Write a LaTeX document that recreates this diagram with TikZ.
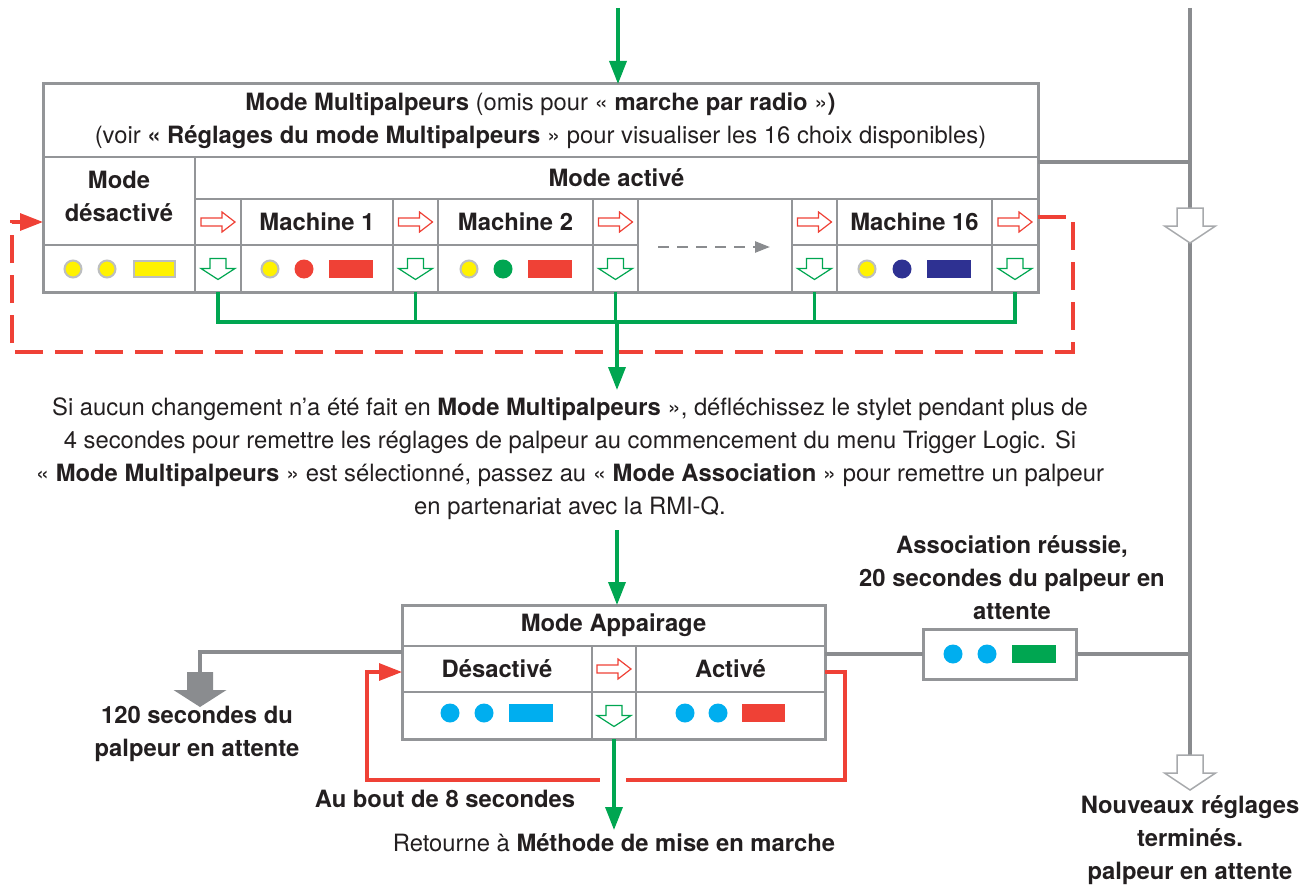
\documentclass[tikz,border=0pt]{standalone}
\usepackage{fontspec}
\setmainfont{TeX Gyre Heros}
\usetikzlibrary{arrows.meta,calc}
\definecolor{ink}{HTML}{231F20}
\definecolor{rule}{HTML}{939598}
\definecolor{wire}{HTML}{8A8C8F}
\definecolor{hollowgray}{HTML}{A7A9AC}
\definecolor{ledrim}{HTML}{BCBEC0}
\definecolor{ledyellow}{HTML}{FFF200}
\definecolor{ledred}{HTML}{EF4136}
\definecolor{ledgreen}{HTML}{00A651}
\definecolor{lednavy}{HTML}{2E3192}
\definecolor{ledcyan}{HTML}{00AEEF}
\newcommand\basefont{\fontsize{23.8}{33}\selectfont}
% table cell: name, x1, y1, x2, y2, text
\newcommand\tcell[6]{\node[cell,minimum width={#4-#2},minimum height={#5-#3}] (#1) at (#2,#3) {#6};}
\newcommand\ledlit[3]{\fill[#3] (#1,#2) circle (9.5);}
\newcommand\leddim[2]{\filldraw[fill=ledyellow,draw=ledrim,line width=2] (#1,#2) circle (8.5);}
\newcommand\ledbar[5]{\fill[#5] (#1,#2) rectangle (#3,#4);}
\begin{document}
\begin{tikzpicture}[x=1pt,y=-1pt,
  cell/.style={draw=rule,line width=1.8,rectangle,inner sep=0,outer sep=0,
    anchor=north west,font=\basefont\bfseries,text=ink,align=center},
  frame/.style={cell,line width=3},
  txt/.style={font=\basefont,text=ink,align=center,inner sep=0},
  btxt/.style={txt,font=\basefont\bfseries},
  gline/.style={draw=ledgreen,line width=3.5},
  garrow/.style={gline,-{Triangle[length=23,width=17]}},
  rline/.style={draw=ledred,line width=3.2},
  rarrow/.style={rline,-{Triangle[length=23,width=17]}},
  rdash/.style={rarrow,dash pattern=on 28 off 12},
  wline/.style={draw=wire,line width=3.5},
  dotarrow/.style={draw=wire,line width=2.5,dash pattern=on 11 off 8,
    -{Triangle[length=15,width=11]}},
  hollowright/.pic={\filldraw[draw=ledred,fill=white,line width=1.2]
    (-17,-4) -- (4,-4) -- (4,-10) -- (17,0) -- (4,10) -- (4,4) -- (-17,4) -- cycle;},
  hollowdown/.pic={\filldraw[draw=ledgreen,fill=white,line width=1.2]
    (-8,-10) -- (8,-10) -- (8,0) -- (17,0) -- (0,11) -- (-17,0) -- (-8,0) -- cycle;},
  bigdown/.pic={\filldraw[draw=hollowgray,fill=white,line width=1.5]
    (-13,-17) -- (13,-17) -- (13,1) -- (25.5,1) -- (0,18) -- (-25.5,1) -- (-13,1) -- cycle;},
  soliddown/.pic={\fill[wire]
    (-13,-17) -- (13,-17) -- (13,1) -- (26.5,1) -- (0,18) -- (-26.5,1) -- (-13,1) -- cycle;}
]
\useasboundingbox (0,0) rectangle (1309,888);

% ---------- right-hand trunk ----------
\coordinate (trunktop) at (1190,8);
\coordinate (trunkend) at (1190,755);
\draw[wline] (trunktop) -- (trunkend);

% ---------- multi-probe table ----------
\tcell{head}{43}{84}{1038}{157}{\mdseries\textbf{Mode Multipalpeurs} (omis pour « \textbf{marche par radio} »\textbf{)}\\\mdseries(voir \textbf{« Réglages du mode Multipalpeurs} » pour visualiser les 16 choix disponibles)}
\tcell{off}{43}{157}{195}{245}{}
\node[btxt] (offlabel) at (119,196) {Mode\\désactivé};
\tcell{on}{195}{157}{1038}{199}{Mode activé}
\tcell{r1}{195}{199}{241}{245}{}
\tcell{m1}{241}{199}{393}{245}{Machine 1}
\tcell{r2}{393}{199}{438}{245}{}
\tcell{m2}{438}{199}{593}{245}{Machine 2}
\tcell{r3}{593}{199}{638}{245}{}
\tcell{gap}{638}{199}{792}{292}{}
\tcell{r4}{792}{199}{837}{245}{}
\tcell{m16}{837}{199}{992}{245}{Machine 16}
\tcell{r5}{992}{199}{1038}{245}{}
\tcell{l0}{43}{245}{195}{292}{}
\tcell{d1}{195}{245}{241}{292}{}
\tcell{l1}{241}{245}{393}{292}{}
\tcell{d2}{393}{245}{438}{292}{}
\tcell{l2}{438}{245}{593}{292}{}
\tcell{d3}{593}{245}{638}{292}{}
\tcell{d4}{792}{245}{837}{292}{}
\tcell{l16}{837}{245}{992}{292}{}
\tcell{d5}{992}{245}{1038}{292}{}
\node[frame,minimum width=995,minimum height=208] (multi) at (43,84) {};

\foreach \c in {r1,r2,r3,r4,r5} \pic at (\c) {hollowright};
\foreach \c in {d1,d2,d3,d4,d5} \pic at (\c) {hollowdown};
\draw[dotarrow] ($(gap.center)+(-57,1.5)$) -- ($(gap.center)+(55,1.5)$);

% LED states
\leddim{73}{269} \leddim{107}{269}
\filldraw[fill=ledyellow,draw=ledrim,line width=2] (134,261) rectangle (175,277);
\leddim{270}{269} \ledlit{304}{269}{ledred} \ledbar{329}{260}{373}{278}{ledred}
\leddim{469}{269} \ledlit{503}{269}{ledgreen} \ledbar{528}{260}{572}{278}{ledred}
\leddim{867}{269} \ledlit{902}{269}{lednavy} \ledbar{927}{260}{971}{278}{lednavy}

% entry arrow and feedback to the right trunk
\coordinate (entry) at (618,8);
\draw[garrow] (entry) -- (entry |- multi.north);
\draw[wline] (multi.east |- 0,162) -- (trunktop |- 0,162);
\pic at (1190,225) {bigdown};

% red dashed wrap-around from Machine 16 back to mode off
\coordinate (dr) at (1073,352);
\coordinate (dl) at (12,352);
\draw[rdash] ($(r5.east)+(0,-5)$) -| (dr) -- (dl) |- (off.west |- r1);

% green collector under the table
\coordinate (bus) at (617,322);
\draw[gline] (d1.south) |- (d5.south |- bus) -- (d5.south);
\foreach \c in {d2,d3,d4} \draw[gline] (\c.south) -- (\c.south |- bus);
\coordinate (notetop) at (617,390);
\draw[garrow] (bus) -- (notetop);

\node[txt] (note) at (570,459) {Si aucun changement n’a été fait en \textbf{Mode Multipalpeurs} », défléchissez le stylet pendant plus de\\4 secondes pour remettre les réglages de palpeur au commencement du menu Trigger Logic. Si\\« \textbf{Mode Multipalpeurs} » est sélectionné, passez au « \textbf{Mode Association} » pour remettre un palpeur\\en partenariat avec la RMI-Q.};

% ---------- pairing table ----------
\tcell{atitle}{402}{605}{825}{646}{Mode Appairage}
\tcell{adis}{402}{646}{592}{692}{Désactivé}
\tcell{aarr}{592}{646}{636}{692}{}
\tcell{aact}{636}{646}{825}{692}{Activé}
\tcell{alo}{402}{692}{592}{739}{}
\tcell{adown}{592}{692}{636}{739}{}
\tcell{ahi}{636}{692}{825}{739}{}
\node[frame,minimum width=423,minimum height=134] (app) at (402,605) {};
\pic at (aarr) {hollowright};
\pic at (adown) {hollowdown};
\ledlit{450}{713}{ledcyan} \ledlit{484}{713}{ledcyan} \ledbar{509}{704}{553}{722}{ledcyan}
\ledlit{685}{713}{ledcyan} \ledlit{718}{713}{ledcyan} \ledbar{742}{704}{785}{722}{ledred}

\coordinate (notebot) at (617,530);
\draw[garrow] (notebot) -- (notebot |- app.north);

% timeout loop back to the off state
\coordinate (lb) at (367,780);
\draw[rarrow] ($(aact.east)+(0,3)$) -- ++(20,0) |- (lb) |- ($(adis.west)+(0,3)$);
\fill[white] (600,776) rectangle (626,784);
\node[btxt] (timeout) at (445,799) {Au bout de 8 secondes};

\node[txt] (ret) at (614,843) {Retourne à \textbf{Méthode de mise en marche}};
\draw[garrow] (adown.south) -- (adown.south |- 0,830);

% no pairing: 120 s standby
\coordinate (stby) at (200,672);
\draw[wline] (app.west |- 0,652) -| (stby);
\pic at (200,689) {soliddown};
\node[btxt] (stbytext) at (197,734) {120 secondes du\\palpeur en attente};

% pairing done: 20 s standby
\node[frame,minimum width=153,minimum height=50] (assoc) at (923,629) {};
\ledlit{953}{654}{ledcyan} \ledlit{987}{654}{ledcyan} \ledbar{1012}{645}{1056}{663}{ledgreen}
\draw[wline] (app.east |- assoc.west) -- (assoc.west);
\draw[wline] (assoc.east) -- (trunktop |- assoc.east);
\node[btxt] (assoctext) at (1012,578) {Association réussie,\\20 secondes du palpeur en\\attente};

% end of the trunk
\pic at (1190,772) {bigdown};
\node[btxt] (donetext) at (1190,840) {Nouveaux réglages\\terminés.\\palpeur en attente};
\end{tikzpicture}
\end{document}
